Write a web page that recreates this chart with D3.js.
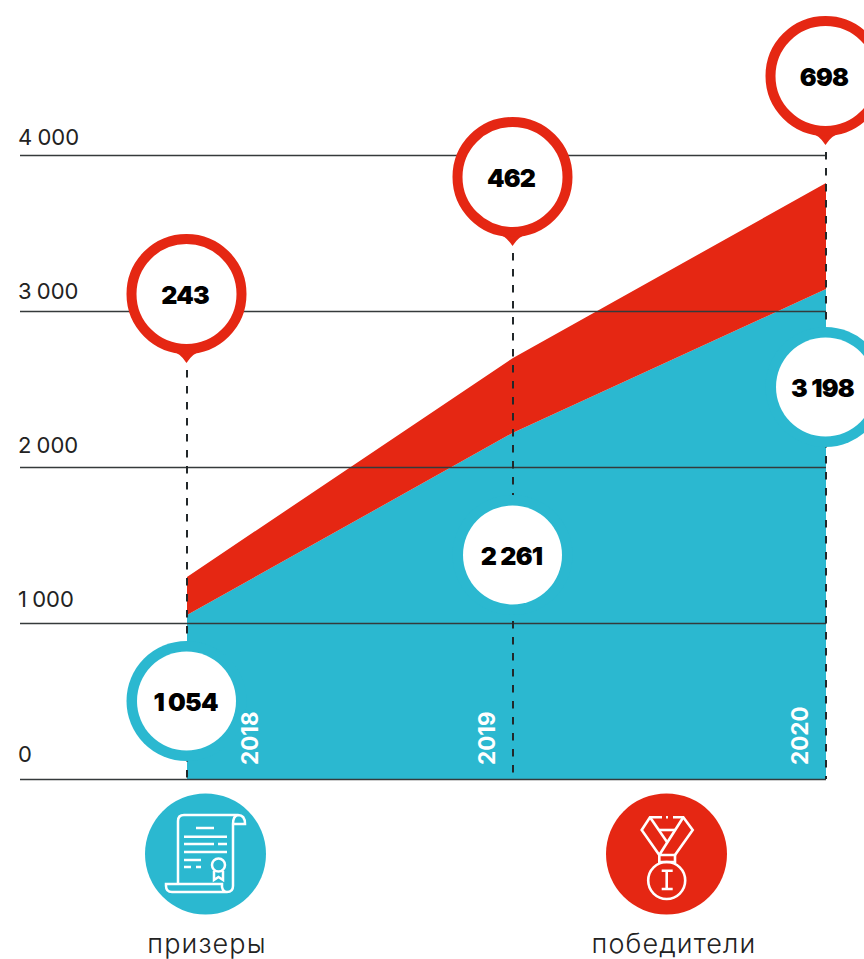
<!DOCTYPE html>
<html>
<head>
<meta charset="utf-8">
<script src="https://cdn.jsdelivr.net/npm/d3@7"></script>
<style>
  html, body { margin: 0; padding: 0; background: #fff; overflow: hidden; }
  svg { display: block; font-family: Inter, "Noto Sans", sans-serif; }
</style>
</head>
<body>
<div class="chart"></div>
<script>
const years = [2018, 2019, 2020];
// numbers printed in the bubbles
const prizers = [1054, 2261, 3198];
const winners = [243, 462, 698];
// edges of the coloured bands as they are drawn (read from the picture, not quite the printed sums)
const prizersEdge = [1051, 2220, 3141];
const totalEdge = [1295, 2699, 3820];
const yTicks = [0, 1000, 2000, 3000, 4000];
const legendLabels = ["призеры", "победители"];

const RED = "#e52713", TEAL = "#2bb8d0", INK = "#222";
const width = 864, height = 959;

const fmt = d3.formatLocale({decimal: ".", thousands: " ", grouping: [3], currency: ["", ""]}).format(",d");

const x = d3.scaleLinear().domain(years).range([187, 513, 826]);
const y = d3.scaleLinear().domain([0, 4000]).range([779, 155]);
// the y labels are spaced a little tighter than the grid lines
const labelY = d3.scaleLinear().domain([0, 4000]).range([761, 144]);

const svg = d3.select(".chart").append("svg")
    .attr("width", width)
    .attr("height", height);

// bands
const band = d3.area().x(d => x(d.year)).y0(d => y(d.low)).y1(d => y(d.high));

svg.append("path")
    .attr("d", band(years.map((year, i) => ({year, low: 0, high: prizersEdge[i]}))))
    .attr("fill", TEAL);

svg.append("path")
    .attr("d", band(years.map((year, i) => ({year, low: prizersEdge[i], high: totalEdge[i]}))))
    .attr("fill", RED);

// grid lines and y labels
const yAxis = d3.axisRight(y)
    .tickValues(yTicks)
    .tickSize(x(2020) - 20)
    .tickFormat(fmt);

const gy = svg.append("g")
    .attr("transform", "translate(20,0)")
    .call(yAxis);

gy.select(".domain").remove();
gy.selectAll(".tick line").attr("stroke", "#353a3b").attr("stroke-width", 1.4);
gy.selectAll(".tick text")
    .attr("x", -2)
    .attr("y", d => labelY(d) - y(d))
    .attr("dy", "0")
    .attr("text-anchor", "start")
    .attr("font-size", 22)
    .attr("word-spacing", -1)
    .attr("fill", INK)
    .attr("font-family", "Inter, sans-serif");

// dashed year lines, from the pin tip to the baseline
const pinY = [294, 177, 76];
const tipOffset = 69;

svg.append("g").selectAll("line")
    .data(years)
    .join("line")
    .attr("x1", d => x(d))
    .attr("x2", d => x(d))
    .attr("y1", (d, i) => pinY[i] + tipOffset + 7)
    .attr("y2", y(0))
    .attr("stroke", "#22282a")
    .attr("stroke-width", 2)
    .attr("stroke-dasharray", "7.5 8.5");

// red pins
const pins = svg.append("g").selectAll("g")
    .data(years)
    .join("g")
    .attr("transform", (d, i) => `translate(${x(d) - 0.5},${pinY[i]})`);

pins.append("path")
    .attr("d", "M-17,56 Q-6,59 0,69 Q6,59 17,56 Z")
    .attr("fill", RED);

pins.append("circle")
    .attr("r", 55)
    .attr("fill", "#fff")
    .attr("stroke", RED)
    .attr("stroke-width", 10);

pins.append("text")
    .attr("x", -1.5)
    .attr("text-anchor", "middle")
    .attr("y", 1)
    .attr("dy", "0.36em")
    .attr("font-size", 25)
    .attr("font-weight", 900)
    .attr("letter-spacing", -0.8)
    .attr("fill", "#000")
    .text((d, i) => fmt(winners[i]));

// blue bubbles
const bubbleY = [701, 555, 387];
const bubbles = svg.append("g").selectAll("g")
    .data(years)
    .join("g")
    .attr("transform", (d, i) => `translate(${x(d) - 0.5},${bubbleY[i]})`);

bubbles.append("circle")
    .attr("r", 60)
    .attr("fill", TEAL);

bubbles.append("circle")
    .attr("r", 49.5)
    .attr("fill", "#fff");

bubbles.append("text")
    .attr("x", (d, i) => i == 2 ? -3 : -1)
    .attr("text-anchor", "middle")
    .attr("y", 1)
    .attr("dy", "0.36em")
    .attr("font-size", 25)
    .attr("font-weight", 900)
    .attr("letter-spacing", -0.8)
    .attr("word-spacing", 0)
    .attr("fill", "#000")
    .text((d, i) => fmt(prizers[i]));

// year labels, above the bubbles
const yearX = [250, 487, 800];
svg.append("g").selectAll("text")
    .data(years)
    .join("text")
    .attr("transform", (d, i) => `translate(${yearX[i]},765) rotate(-90)`)
    .attr("dy", "0.36em")
    .attr("font-size", 22.5)
    .attr("font-weight", 700)
    .attr("fill", "#fff")
    .text(d => d);

// legend
const legendX = [205.5, 666.5];
const legendText = [207, 674];
const legend = svg.append("g").selectAll("g")
    .data(legendLabels)
    .join("g");

legend.append("circle")
    .attr("cx", (d, i) => legendX[i])
    .attr("cy", 854)
    .attr("r", 60.5)
    .attr("fill", (d, i) => i == 0 ? TEAL : RED);

legend.append("text")
    .attr("x", (d, i) => legendText[i])
    .attr("y", 953)
    .attr("text-anchor", "middle")
    .attr("font-size", 27)
    .attr("font-weight", 300)
    .attr("letter-spacing", 1.1)
    .attr("fill", INK)
    .text(d => d);

// scroll icon
const scroll = svg.append("g")
    .attr("fill", "none")
    .attr("stroke", "#fff")
    .attr("stroke-width", 2.5);

[
  "M178,884 V821 Q178,815 184,815 H238 Q245,815 245,824 H233 M238,815 Q233,816 233,824 V886 Q233,892 227,892 H172 Q166,892 166,886 V884 H222 V887 Q223,892 227,892",
  "M196,828 H214",
  "M184,836.7 H227",
  "M184,844 H214 M218,844 H227",
  "M184,852 H227",
  "M184,860 H201",
  "M184,867 H191 M196,867 H201",
  "M214,871 V880 L218.5,877 L223,880 V871"
].forEach(d => scroll.append("path").attr("d", d));

scroll.append("circle").attr("cx", 218.5).attr("cy", 865).attr("r", 6.5);

// medal icon
const medal = svg.append("g")
    .attr("fill", "none")
    .attr("stroke", "#fff")
    .attr("stroke-width", 2.6);

[
  "M662,817.3 H650 L641.7,830 L659.3,855 M673,817.3 H683.3 L692.7,830 L675,855",
  "M650,817.3 L667,842",
  "M683.3,817.3 L659.3,855 V862 H675 V855 H659.3",
  "M659,830 H675",
  "M661.7,870.7 H672.7 M666.7,870.7 V889 M661.7,889 H672.7",
  "M666,817.3 H668"
].forEach(d => medal.append("path").attr("d", d));

medal.append("circle").attr("cx", 666.7).attr("cy", 880.5).attr("r", 18.5);
</script>
</body>
</html>
